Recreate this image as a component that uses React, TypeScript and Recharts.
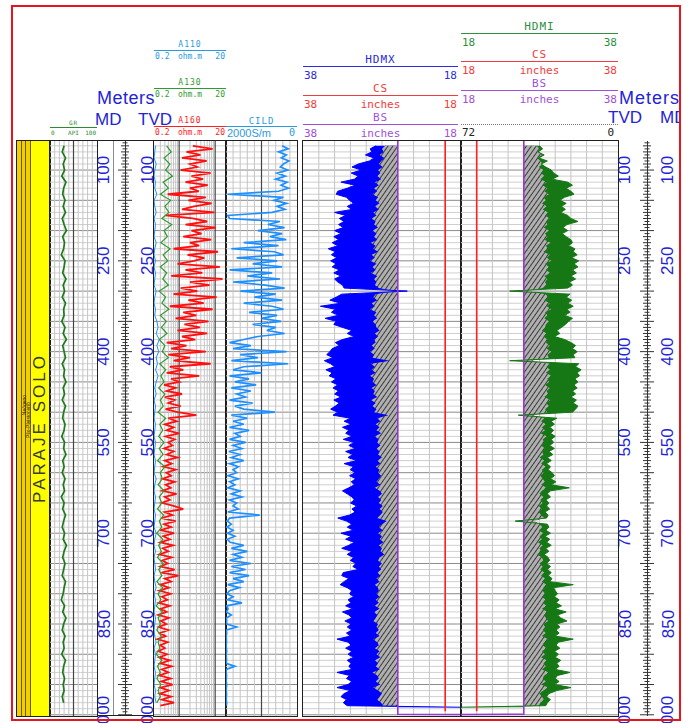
import { ComposedChart, Line, Area, XAxis, YAxis, ReferenceLine } from 'recharts'

// depth frame, metres
const TOP_DEPTH = 52
const BOTTOM_DEPTH = 1002
const FIRST_SAMPLE = 60
const STEP = 5 // hdmx, hdmi, hatch, a160, cild every 5 m; gr, a110, a130 every 10 m
const DEPTH_LABELS = [100, 250, 400, 550, 700, 850, 1000]

const BS_IN = 26
const CS_IN = 20
const AUX_72 = 25.7
const LOG_END = 987.5
const CS_END = 994
const TD = 999

// HDMX, inches (5 m)
const hdmx = [
  28.8, 29.5, 29.3, 30.1, 29.0, 29.6, 31.0, 31.8, 30.6, 31.9,
  31.0, 31.5, 33.2, 31.4, 32.4, 33.6, 33.8, 32.5, 32.1, 31.6,
  32.4, 31.8, 34.0, 32.6, 33.4, 32.8, 33.5, 32.9, 34.0, 33.2,
  34.1, 33.5, 34.3, 33.6, 34.8, 33.9, 34.4, 33.7, 34.5, 33.8,
  34.3, 33.4, 34.1, 33.2, 34.0, 33.6, 33.0, 32.8, 24.8, 33.1,
  33.8, 34.6, 33.2, 35.8, 33.9, 34.4, 33.5, 35.2, 33.8, 34.1,
  33.0, 31.8, 32.4, 31.5, 33.0, 33.9, 33.4, 34.3, 34.6, 35.0,
  34.2, 35.3, 34.5, 34.0, 35.1, 34.3, 34.7, 33.8, 34.4, 33.6,
  34.2, 33.5, 34.0, 33.2, 34.1, 33.4, 33.9, 34.5, 33.6, 34.2,
  32.0, 32.8, 31.9, 33.0, 32.2, 32.6, 31.8, 32.9, 31.5, 32.2,
  31.4, 32.6, 31.7, 32.3, 31.2, 32.8, 31.6, 32.0, 31.4, 32.1,
  31.3, 31.9, 31.5, 32.2, 33.0, 32.4, 31.8, 31.5, 32.0, 31.2,
  31.8, 31.4, 32.1, 33.6, 32.5, 31.8, 32.4, 31.6, 33.2, 31.9,
  32.6, 31.5, 32.2, 33.1, 31.8, 32.4, 31.6, 32.0, 31.3, 31.7,
  31.0, 32.9, 33.1, 32.2, 32.8, 33.3, 32.4, 31.8, 32.1, 31.6,
  32.3, 31.9, 32.6, 31.7, 33.0, 32.2, 31.8, 32.7, 31.9, 32.4,
  31.8, 32.5, 32.0, 33.7, 32.3, 31.9, 32.6, 31.8, 32.3, 31.6,
  32.4, 31.9, 32.2, 31.8, 33.7, 32.1, 32.5, 31.8, 32.3, 33.7,
  32.0, 32.8, 33.2, 32.5, 32.9, 32.4,
]

// HDMI, inches (5 m)
const hdmi = [
  28.0, 28.4, 27.8, 28.6, 27.9, 29.0, 28.2, 28.8, 29.5, 29.8,
  30.4, 29.6, 31.6, 32.2, 31.4, 32.0, 32.4, 31.2, 30.6, 31.4,
  30.8, 31.3, 30.7, 31.6, 32.0, 32.9, 31.5, 31.0, 31.6, 30.9,
  31.4, 32.0, 32.2, 31.7, 32.5, 32.3, 32.8, 32.1, 33.0, 32.4,
  32.9, 32.2, 32.7, 32.0, 32.6, 31.8, 32.2, 31.6, 24.2, 31.9,
  31.4, 32.1, 31.6, 32.3, 31.5, 31.9, 31.2, 32.2, 31.7, 31.3,
  30.8, 30.2, 30.6, 29.9, 31.2, 32.0, 32.6, 32.2, 32.8, 32.3,
  32.5, 24.2, 33.0, 32.6, 33.3, 32.8, 33.1, 32.5, 32.9, 32.4,
  32.8, 32.2, 32.6, 32.0, 32.7, 32.3, 32.9, 32.6, 32.2, 25.3,
  30.2, 29.5, 29.9, 29.3, 29.8, 29.4, 30.0, 29.5, 29.8, 29.3,
  29.9, 29.2, 29.7, 29.0, 29.5, 28.9, 29.4, 29.1, 29.6, 29.9,
  29.4, 30.1, 29.5, 31.8, 29.4, 29.0, 29.4, 28.8, 29.2, 28.9,
  29.3, 28.7, 29.1, 28.9, 24.9, 29.0, 29.2, 28.8, 29.4, 28.7,
  29.3, 28.9, 29.5, 28.8, 29.2, 28.6, 29.1, 29.3, 28.9, 29.4,
  29.0, 29.5, 29.1, 29.6, 29.3, 32.3, 29.8, 30.0, 30.3, 29.9,
  30.5, 30.1, 30.8, 30.0, 31.4, 30.3, 30.7, 31.5, 30.2, 30.6,
  30.1, 30.5, 30.0, 32.3, 30.4, 30.1, 30.6, 29.9, 30.4, 30.0,
  30.7, 30.2, 30.5, 30.0, 31.9, 30.3, 30.0, 30.5, 29.9, 32.0,
  30.2, 29.2, 28.9, 29.4, 29.0, 28.8,
]

// edge of the hatched fill next to BS, inches (5 m)
const hatch = [
  27.6, 28.0, 27.8, 28.3, 27.7, 28.1, 28.4, 27.9, 28.5, 28.2,
  28.6, 28.1, 28.9, 28.4, 29.0, 28.6, 29.2, 28.5, 28.8, 28.3,
  28.9, 28.4, 29.1, 28.7, 29.3, 28.8, 29.0, 28.5, 29.2, 28.7,
  29.0, 28.6, 29.4, 28.8, 29.1, 28.5, 29.3, 28.9, 29.5, 28.7,
  29.2, 28.8, 29.4, 28.6, 29.0, 28.7, 28.9, 28.4, 26.5, 28.8,
  29.1, 28.6, 29.3, 28.9, 29.5, 28.7, 29.0, 28.6, 29.2, 28.8,
  28.7, 28.3, 28.9, 28.5, 29.0, 28.8, 29.3, 28.9, 29.5, 29.0,
  29.2, 27.0, 29.4, 28.9, 29.3, 28.8, 29.5, 29.0, 29.2, 28.7,
  29.3, 28.9, 29.1, 28.6, 29.4, 28.8, 29.2, 28.7, 29.0, 27.2,
  28.6, 28.2, 28.8, 28.3, 28.7, 28.1, 28.9, 28.4, 28.6, 28.2,
  28.7, 28.3, 28.5, 28.0, 28.6, 28.2, 28.8, 28.3, 28.5, 28.1,
  28.4, 28.7, 28.2, 28.9, 28.3, 28.0, 28.5, 28.1, 28.4, 27.9,
  28.3, 27.9, 28.2, 28.6, 27.4, 28.0, 28.4, 27.9, 28.5, 28.0,
  28.3, 27.8, 28.4, 28.0, 28.2, 27.7, 28.3, 28.5, 28.0, 28.4,
  28.1, 28.6, 28.2, 28.7, 28.3, 28.9, 28.5, 28.4, 28.7, 28.3,
  28.8, 28.4, 28.9, 28.3, 29.0, 28.6, 28.8, 29.1, 28.5, 28.7,
  28.4, 28.8, 28.3, 29.1, 28.6, 28.4, 28.9, 28.3, 28.7, 28.2,
  28.9, 28.5, 28.8, 28.3, 29.2, 28.6, 28.4, 28.8, 28.2, 29.1,
  28.5, 28.0, 28.3, 28.6, 28.1, 27.9,
]

// A160, ohm.m (5 m)
const a160 = [
  2.4, 8.5, 1.6, 3.9, 1.2, 5.8, 2.0, 3.2, 1.1, 7.5,
  2.2, 4.6, 1.5, 6.2, 2.0, 3.5, 0.48, 5.5, 1.8, 8.0,
  2.6, 1.2, 9.5, 0.42, 2.4, 6.0, 1.5, 10.5, 2.2, 4.2,
  1.3, 7.8, 2.0, 3.6, 0.7, 12.0, 1.7, 5.0, 2.6, 0.9,
  13.5, 1.5, 4.4, 0.6, 16.0, 2.0, 7.0, 1.1, 3.2, 0.7,
  11.0, 1.8, 4.8, 0.55, 8.5, 1.3, 3.0, 0.8, 6.5, 1.4,
  3.8, 0.9, 6.0, 1.2, 2.8, 0.45, 1.6, 0.6, 5.5, 0.5,
  2.0, 0.7, 7.5, 0.55, 1.3, 0.45, 3.6, 0.6, 1.0, 0.38,
  0.8, 0.45, 1.2, 0.4, 0.75, 0.5, 1.1, 0.42, 0.9, 3.0,
  0.5, 0.85, 0.4, 0.7, 0.45, 1.0, 0.42, 0.75, 0.5, 0.65,
  0.38, 0.7, 0.45, 0.9, 0.4, 0.62, 0.36, 0.8, 0.44, 0.6,
  0.35, 0.75, 0.42, 0.58, 0.34, 0.85, 0.4, 0.55, 0.33, 0.7,
  1.3, 0.4, 0.65, 0.32, 0.8, 0.38, 0.6, 0.3, 0.72, 0.36,
  0.55, 0.3, 0.68, 0.35, 0.5, 0.28, 0.62, 0.34, 0.48, 0.3,
  0.75, 0.32, 0.95, 0.4, 0.6, 0.3, 0.52, 0.28, 0.58, 0.33,
  0.47, 0.27, 0.55, 0.3, 0.45, 0.26, 0.52, 0.31, 0.44, 0.27,
  0.5, 0.29, 0.42, 0.25, 0.48, 0.3, 0.4, 0.26, 0.46, 0.28,
  0.55, 0.3, 0.62, 0.33, 0.5, 0.28, 0.58, 0.32, 0.66, 0.3,
  0.52, 0.29, 0.6, 0.33, 0.72, 0.3,
]

// CILD, mS/m (5 m)
const cild = [
  420, 250, 520, 300, 440, 230, 380, 470, 260, 560,
  330, 600, 280, 450, 240, 520, 1960, 380, 650, 290,
  560, 340, 700, 1950, 1900, 480, 820, 350, 1100, 420,
  760, 300, 1500, 520, 1850, 640, 380, 1700, 560, 1250,
  420, 1900, 700, 1400, 480, 1800, 900, 350, 1600, 600,
  1200, 420, 1500, 700, 380, 1350, 560, 1000, 450, 1250,
  600, 850, 350, 1100, 1500, 1900, 1300, 1800, 300, 1600,
  1100, 1850, 250, 1500, 1800, 1000, 1900, 1350, 1750, 1150,
  1850, 1300, 1700, 1450, 1900, 1250, 1750, 1500, 620, 1850,
  1400, 1800, 1500, 1900, 1350, 1750, 1600, 1900, 1450, 1800,
  1550, 1920, 1600, 1850, 1500, 1900, 1650, 1800, 1700, 1950,
  1650, 1900, 1750, 1950, 1600, 1850, 1550, 1900, 1700, 1800,
  1650, 1950, 1050, 1900, 1960, 1850, 1970, 1800, 1950, 1750,
  1960, 1880, 1500, 1850, 1400, 1800, 1550, 1900, 1300, 1850,
  1450, 1900, 1350, 1800, 1500, 1950, 1620, 1900, 1970, 1800,
  1960, 1550, 1980, 1940, 1990, 1850, 1990, 1980, 1990, 1700,
  1990, 1980, 1995, 1990, 1985, 1995, 1990, 1980, 1995, 1990,
  1985, 1995, 1750, 1990, 1995, 1985, 1990, 1995, 1980, 1990,
  1995, 1985, 1990, 1995, 1980, 1990,
]

// GR, API (10 m)
const gr = [
  30, 26, 33, 28, 31, 25, 34, 29, 27, 32,
  28, 33, 26, 30, 35, 27, 31, 29, 24, 32,
  30, 27, 34, 28, 31, 26, 33, 29, 30, 25,
  32, 28, 35, 27, 30, 33, 26, 31, 29, 34,
  28, 31, 26, 33, 29, 27, 32, 30, 25, 31,
  29, 34, 27, 30, 26, 32, 28, 31, 24, 30,
  27, 33, 29, 26, 31, 28, 35, 30, 27, 32,
  29, 26, 33, 30, 28, 24, 31, 27, 34, 29,
  26, 32, 28, 30, 25, 33, 29, 27, 31, 28,
  30, 26, 29,
]

// A130, ohm.m (10 m)
const a130 = [
  0.45, 0.6, 0.38, 0.55, 0.42, 0.65, 0.36, 0.5, 0.3, 0.58,
  0.4, 0.52, 0.33, 0.62, 0.38, 0.47, 0.31, 0.56, 0.36, 0.48,
  0.3, 0.45, 0.35, 0.5, 0.28, 0.42, 0.33, 0.52, 0.3, 0.44,
  0.32, 0.46, 0.28, 0.4, 0.34, 0.5, 0.29, 0.42, 0.31, 0.38,
  0.27, 0.4, 0.3, 0.36, 0.26, 0.42, 0.29, 0.35, 0.27, 0.38,
  0.28, 0.36, 0.25, 0.4, 0.3, 0.34, 0.26, 0.38, 0.28, 0.33,
  0.25, 0.37, 0.28, 0.33, 0.24, 0.35, 0.27, 0.32, 0.25, 0.36,
  0.27, 0.33, 0.24, 0.35, 0.26, 0.31, 0.23, 0.34, 0.26, 0.3,
  0.24, 0.32, 0.26, 0.29, 0.23, 0.33, 0.25, 0.3, 0.24, 0.31,
  0.26, 0.3, 0.24,
]

// A110, ohm.m (10 m)
const a110 = [
  0.22, 0.21, 0.2, 0.23, 0.21, 0.2, 0.22, 0.21, 0.24, 0.2,
  0.21, 0.23, 0.2, 0.22, 0.21, 0.2, 0.23, 0.21, 0.2, 0.22,
  0.2, 0.22, 0.21, 0.2, 0.23, 0.21, 0.2, 0.22, 0.21, 0.24,
  0.26, 0.23, 0.28, 0.24, 0.27, 0.23, 0.25, 0.22, 0.26, 0.23,
  0.21, 0.23, 0.2, 0.22, 0.21, 0.2, 0.22, 0.21, 0.2, 0.22,
  0.21, 0.2, 0.22, 0.21, 0.2, 0.23, 0.21, 0.2, 0.22, 0.21,
  0.2, 0.22, 0.21, 0.2, 0.23, 0.21, 0.2, 0.22, 0.2, 0.21,
  0.22, 0.2, 0.21, 0.23, 0.2, 0.22, 0.21, 0.2, 0.22, 0.21,
  0.2, 0.21, 0.23, 0.2, 0.22, 0.21, 0.2, 0.22, 0.21, 0.2,
  0.22, 0.21, 0.23,
]

type Row = { depth: number; [k: string]: number | number[] | null | undefined }

const rows: Row[] = [{ depth: TOP_DEPTH, bs: BS_IN, cs: CS_IN }]
hdmx.forEach((v, i) => {
  const even = i % 2 === 0
  const k = i / 2
  rows.push({
    depth: FIRST_SAMPLE + i * STEP,
    gr: even ? gr[k] : null,
    a110: even ? a110[k] : null,
    a130: even ? a130[k] : null,
    a160: a160[i],
    cild: cild[i],
    hdmx: v,
    hdmi: hdmi[i],
    blue: [BS_IN, v],
    green: [BS_IN, hdmi[i]],
    hatchFill: [BS_IN, hatch[i]],
    bs: BS_IN,
    cs: CS_IN,
  })
})
rows.push({ depth: LOG_END, hdmx: 18, hdmi: 18, blue: [BS_IN, 18], green: [BS_IN, 18], bs: BS_IN, cs: CS_IN })
rows.push({ depth: CS_END, bs: BS_IN, cs: CS_IN })
rows.push({ depth: TD, bs: BS_IN })
rows.push({ depth: TD + 0.5, bs: 18 })

const GRID_DEPTHS: number[] = []
for (let d = 60; d <= 1000; d += 10) GRID_DEPTHS.push(d)
const RULER_DEPTHS: number[] = []
for (let d = 55; d <= 1000; d += 5) RULER_DEPTHS.push(d)

const RES_MINOR = [0.3, 0.4, 0.5, 0.6, 0.7, 0.8, 0.9, 2, 3, 4, 5, 6, 7, 8, 9]
const RES_MAJOR = [1, 10]
const GR_LINES = [10, 20, 30, 40, 60, 70, 80, 90]
const CILD_LINES = [200, 400, 600, 800, 1200, 1400, 1600, 1800]
const CAL_LINES = [20, 22, 24, 28, 30, 32, 34, 36]

const TRACK_TOP = 141
const TRACK_H = 575
const PAD_B = 24
const LABEL_BLUE = '#2424d6'

type XCfg = { domain: [number, number]; reversed?: boolean; log?: boolean }

const depthAxis = () => (
  <YAxis type="number" dataKey="depth" domain={[TOP_DEPTH, BOTTOM_DEPTH]} hide allowDataOverflow />
)

const depthTick = (labelOffsets: number[], rulerOffset: number) => (props: any) => {
  const { x, y, payload } = props
  const d = payload.value as number
  const half = d % 50 === 0 ? 7 : d % 10 === 0 ? 4 : 2.5
  const rx = x + rulerOffset
  return (
    <g>
      <line x1={rx - half} x2={rx + half} y1={y} y2={y} stroke="#333" strokeWidth={1} />
      {DEPTH_LABELS.includes(d) &&
        labelOffsets.map((o) => (
          <text
            key={o}
            x={x + o}
            y={y}
            transform={`rotate(-90 ${x + o} ${y})`}
            textAnchor="middle"
            dominantBaseline="central"
            fill={LABEL_BLUE}
            fontSize={17}
            fontFamily="'Liberation Sans', Arial, sans-serif"
          >
            {d}
          </text>
        ))}
    </g>
  )
}

function GridLayer({ left, width, x, vMinor, vMajor = [], extra }: {
  left: number; width: number; x: XCfg; vMinor: number[]; vMajor?: number[]; extra?: React.ReactNode
}) {
  return (
    <div style={{ position: 'absolute', left, top: TRACK_TOP }}>
      <ComposedChart layout="vertical" width={width} height={TRACK_H + PAD_B} data={rows}
        margin={{ top: 0, right: 0, bottom: PAD_B, left: 0 }}>
        <XAxis type="number" hide domain={x.domain} reversed={x.reversed} scale={x.log ? 'log' : 'auto'} allowDataOverflow />
        {depthAxis()}
        {GRID_DEPTHS.map((d) => (
          <ReferenceLine key={'h' + d} y={d} stroke={d % 50 === 0 ? '#8a8a8a' : '#cfcfcf'} strokeWidth={1} />
        ))}
        {vMinor.map((v) => (
          <ReferenceLine key={'v' + v} x={v} stroke="#c4c4c4" strokeWidth={1} />
        ))}
        {vMajor.map((v) => (
          <ReferenceLine key={'m' + v} x={v} stroke="#444" strokeWidth={1.2} />
        ))}
        {extra}
      </ComposedChart>
    </div>
  )
}

function DataLayer({ left, width, x, children, axisWidth = 0, tick, padR = 0 }: {
  left: number; width: number; x: XCfg; children: React.ReactNode; axisWidth?: number; tick?: any; padR?: number
}) {
  return (
    <div style={{ position: 'absolute', left, top: TRACK_TOP }}>
      <ComposedChart layout="vertical" width={width + axisWidth + padR} height={TRACK_H + PAD_B} data={rows}
        margin={{ top: 0, right: padR, bottom: PAD_B, left: 0 }}>
        <XAxis type="number" hide domain={x.domain} reversed={x.reversed} scale={x.log ? 'log' : 'auto'} allowDataOverflow />
        {axisWidth > 0 ? (
          <YAxis type="number" dataKey="depth" domain={[TOP_DEPTH, BOTTOM_DEPTH]} allowDataOverflow
            orientation="right" width={axisWidth} ticks={RULER_DEPTHS} interval={0} axisLine={false}
            tickLine={false} tickSize={0} tickMargin={0} tick={tick} />
        ) : (
          depthAxis()
        )}
        {children}
      </ComposedChart>
    </div>
  )
}

const hatchDefs = (id: string) => (
  <defs>
    <pattern id={id} width={4} height={4} patternUnits="userSpaceOnUse" patternTransform="rotate(35)">
      <rect width={4} height={4} fill="#b0b0b0" />
      <line x1={0} y1={0} x2={0} y2={4} stroke="#262626" strokeWidth={1.7} />
    </pattern>
  </defs>
)

const MONO = "'DejaVu Sans Mono', monospace"
const SANS = "'Liberation Sans', Arial, sans-serif"

function Txt({ x, y, children, color, size, anchor = 'middle', font = MONO, spacing = 0, bold = false }: any) {
  const tx = anchor === 'middle' ? '-50%' : anchor === 'end' ? '-100%' : '0'
  return (
    <div style={{
      position: 'absolute', left: x, top: y, transform: `translate(${tx}, -50%)`, color, fontSize: size,
      fontFamily: font, whiteSpace: 'nowrap', lineHeight: 1, letterSpacing: spacing, fontWeight: bold ? 700 : 400,
    }}>
      {children}
    </div>
  )
}

function HLine({ x1, x2, y, color, w = 1.5, dashed = false }: any) {
  return (
    <div style={{
      position: 'absolute', left: x1, top: y - w / 2, width: x2 - x1, height: 0,
      borderTop: `${w}px ${dashed ? 'dotted' : 'solid'} ${color}`,
    }} />
  )
}

function ScaleHead({ x1, x2, lineY, color, title, lo, mid, hi, size = 11, gap = 8 }: any) {
  const cx = (x1 + x2) / 2
  return (
    <>
      {title && <Txt x={cx} y={lineY - gap} color={color} size={size} spacing={1}>{title}</Txt>}
      <HLine x1={x1} x2={x2} y={lineY} color={color} />
      {lo && <Txt x={x1 + 1} y={lineY + gap} color={color} size={size} anchor="start">{lo}</Txt>}
      {mid && <Txt x={cx} y={lineY + gap} color={color} size={size}>{mid}</Txt>}
      {hi && <Txt x={x2 - 1} y={lineY + gap} color={color} size={size} anchor="end">{hi}</Txt>}
    </>
  )
}

function Box({ x1, x2, color = '#1f1f1f', w = 1.5 }: any) {
  return (
    <div style={{
      position: 'absolute', left: x1 - w / 2, top: TRACK_TOP - w / 2, width: x2 - x1 + w, height: TRACK_H + w,
      border: `${w}px solid ${color}`, boxSizing: 'border-box',
    }} />
  )
}

function VRule({ x, color = '#333', w = 1 }: any) {
  return <div style={{ position: 'absolute', left: x - w / 2, top: TRACK_TOP, width: w, height: TRACK_H, background: color }} />
}

const GR_X: XCfg = { domain: [0, 100] }
const RES_X: XCfg = { domain: [0.2, 20], log: true }
const CILD_X: XCfg = { domain: [0, 2000], reversed: true }
const HDMX_X: XCfg = { domain: [18, 38], reversed: true }
const HDMI_X: XCfg = { domain: [18, 38] }

const C = {
  gr: '#1d7a1d',
  a130: '#2f9a2f',
  a160: '#ff1010',
  a110: '#1e90ff',
  cild: '#1e8fff',
  hdmx: '#0000ff',
  hdmi: '#157815',
  bs: '#9a35d6',
  cs: '#ff2020',
}

export default function App() {
  return (
    <div style={{ position: 'absolute', left: 0, top: 0, width: 681, height: 723, overflow: 'hidden', background: '#fff' }}>
      {/* lithology column */}
      <div style={{ position: 'absolute', left: 17, top: TRACK_TOP, width: 13, height: TRACK_H, background: '#f1cf00' }} />
      <div style={{ position: 'absolute', left: 30, top: TRACK_TOP, width: 20, height: TRACK_H, background: '#ffff00' }} />
      <VRule x={21.5} color="#6b5a00" />
      <VRule x={25.5} color="#6b5a00" />
      <VRule x={30} color="#6b5a00" />
      <div style={{
        position: 'absolute', left: 40, top: 428, transform: 'translate(-50%, -50%) rotate(-90deg)', whiteSpace: 'nowrap',
        fontFamily: SANS, fontSize: 17, letterSpacing: 3, color: '#3a3a3a',
      }}>PARAJE SOLO</div>
      <div style={{
        position: 'absolute', left: 23.5, top: 405, transform: 'translate(-50%, -50%) rotate(-90deg)', whiteSpace: 'nowrap',
        fontFamily: SANS, fontSize: 5, color: '#222',
      }}>Neógeno</div>
      <div style={{
        position: 'absolute', left: 27.8, top: 420, transform: 'translate(-50%, -50%) rotate(-90deg)', whiteSpace: 'nowrap',
        fontFamily: SANS, fontSize: 5, color: '#222',
      }}>Plio-Pleistoceno</div>
      <Box x1={17} x2={50} />

      {/* GR + left depth column */}
      <GridLayer left={50} width={47} x={GR_X} vMinor={GR_LINES} vMajor={[50]} />
      <VRule x={113} color="#8a8a8a" />
      <VRule x={125} color="#333" />
      <DataLayer left={50} width={47} x={GR_X} axisWidth={57} padR={8} tick={depthTick([7, 50.5], 28)}>
        <Line dataKey="gr" stroke={C.gr} strokeWidth={1.7} dot={false} connectNulls isAnimationActive={false} />
      </DataLayer>
      <Box x1={50} x2={97} />
      <HLine x1={97} x2={154} y={TRACK_TOP} color="#1f1f1f" />
      <HLine x1={97} x2={154} y={TRACK_TOP + TRACK_H} color="#1f1f1f" />

      {/* resistivity */}
      <GridLayer left={154} width={72} x={RES_X} vMinor={RES_MINOR} vMajor={RES_MAJOR} />
      <DataLayer left={154} width={72} x={RES_X}>
        <Line dataKey="a110" stroke={C.a110} strokeWidth={1} dot={false} connectNulls isAnimationActive={false} />
        <Line dataKey="a160" stroke={C.a160} strokeWidth={1.8} dot={false} isAnimationActive={false} />
        <Line dataKey="a130" stroke={C.a130} strokeWidth={1.2} dot={false} connectNulls isAnimationActive={false} />
      </DataLayer>
      <Box x1={154} x2={226} />

      {/* conductivity */}
      <GridLayer left={226} width={71} x={CILD_X} vMinor={CILD_LINES} vMajor={[1000]} />
      <DataLayer left={226} width={71} x={CILD_X}>
        <Line dataKey="cild" stroke={C.cild} strokeWidth={1.7} dot={false} isAnimationActive={false} />
      </DataLayer>
      <Box x1={226} x2={297} />

      {/* HDMX */}
      <GridLayer left={303} width={158} x={HDMX_X} vMinor={CAL_LINES} />
      <DataLayer left={303} width={158} x={HDMX_X}>
        {hatchDefs('hatchL')}
        <Area dataKey="blue" type="linear" fill={C.hdmx} fillOpacity={1} stroke="none" isAnimationActive={false} />
        <Area dataKey="hatchFill" type="linear" fill="url(#hatchL)" fillOpacity={1} stroke="none" isAnimationActive={false} />
        <Line dataKey="hdmx" stroke={C.hdmx} strokeWidth={1} dot={false} isAnimationActive={false} />
        <Line dataKey="cs" stroke={C.cs} strokeWidth={1.6} dot={false} connectNulls isAnimationActive={false} />
        <Line dataKey="bs" stroke={C.bs} strokeWidth={1.6} dot={false} connectNulls isAnimationActive={false} />
      </DataLayer>
      <Box x1={303} x2={461} />

      {/* HDMI + right depth column */}
      <GridLayer left={461} width={157} x={HDMI_X} vMinor={CAL_LINES}
        extra={[
          <XAxis key="ax" xAxisId="aux" type="number" hide domain={[0, 72]} reversed />,
          <ReferenceLine key="rl" xAxisId="aux" x={AUX_72} stroke="#333" strokeDasharray="2 2" strokeWidth={1} />,
        ]} />
      <VRule x={647} color="#333" />
      <DataLayer left={461} width={157} x={HDMI_X} axisWidth={62} tick={depthTick([7, 50], 29)}>
        {hatchDefs('hatchR')}
        <Area dataKey="green" type="linear" fill={C.hdmi} fillOpacity={1} stroke="none" isAnimationActive={false} />
        <Area dataKey="hatchFill" type="linear" fill="url(#hatchR)" fillOpacity={1} stroke="none" isAnimationActive={false} />
        <Line dataKey="hdmi" stroke={C.hdmi} strokeWidth={1} dot={false} isAnimationActive={false} />
        <Line dataKey="cs" stroke={C.cs} strokeWidth={1.6} dot={false} connectNulls isAnimationActive={false} />
        <Line dataKey="bs" stroke={C.bs} strokeWidth={1.6} dot={false} connectNulls isAnimationActive={false} />
      </DataLayer>
      <Box x1={461} x2={618} />

      {/* headers, left */}
      <ScaleHead x1={154} x2={226} lineY={51} color="#2a9ae0" title="A110" lo="0.2" mid="ohm.m" hi="20" size={8} gap={6} />
      <ScaleHead x1={154} x2={226} lineY={89} color="#2f9a2f" title="A130" lo="0.2" mid="ohm.m" hi="20" size={8} gap={6} />
      <ScaleHead x1={154} x2={226} lineY={127} color="#ff2020" title="A160" lo="0.2" mid="ohm.m" hi="20" size={8} gap={6} />
      <ScaleHead x1={226} x2={297} lineY={127} color="#2a9ae0" title="CILD" size={9} gap={6} />
      <Txt x={227} y={133} color="#2a9ae0" size={11} anchor="start" font={SANS}>2000S/m</Txt>
      <Txt x={295} y={133} color="#2a9ae0" size={10} anchor="end">0</Txt>
      <ScaleHead x1={50} x2={97} lineY={128} color="#2f8a2f" title="GR" lo="0" mid="API" hi="100" size={6} gap={5} />
      <Txt x={97} y={98} color={LABEL_BLUE} size={18} anchor="start" font={SANS} spacing={0.5}>Meters</Txt>
      <Txt x={95} y={119} color={LABEL_BLUE} size={17} anchor="start" font={SANS}>MD</Txt>
      <Txt x={138} y={119} color={LABEL_BLUE} size={17} anchor="start" font={SANS}>TVD</Txt>

      {/* headers, right */}
      <ScaleHead x1={303} x2={458} lineY={67} color="#2b2be0" title="HDMX" lo="38" hi="18" />
      <ScaleHead x1={303} x2={458} lineY={96} color="#f03c3c" title="CS" lo="38" mid="inches" hi="18" />
      <ScaleHead x1={303} x2={458} lineY={125} color="#a050d8" title="BS" lo="38" mid="inches" hi="18" />
      <ScaleHead x1={461} x2={618} lineY={34} color="#2f8f3f" title="HDMI" lo="18" hi="38" />
      <ScaleHead x1={461} x2={618} lineY={62} color="#f03c3c" title="CS" lo="18" mid="inches" hi="38" />
      <ScaleHead x1={461} x2={618} lineY={91} color="#a050d8" title="BS" lo="18" mid="inches" hi="38" />
      <HLine x1={461} x2={618} y={124} color="#777" w={1} dashed />
      <Txt x={462} y={132} color="#222" size={11} anchor="start">72</Txt>
      <Txt x={614} y={132} color="#222" size={11} anchor="end">0</Txt>
      <Txt x={619} y={98} color={LABEL_BLUE} size={18} anchor="start" font={SANS} spacing={1}>Meters</Txt>
      <Txt x={608} y={117} color={LABEL_BLUE} size={17} anchor="start" font={SANS}>TVD</Txt>
      <Txt x={660} y={117} color={LABEL_BLUE} size={17} anchor="start" font={SANS}>MD</Txt>

      {/* outer frame */}
      <div style={{
        position: 'absolute', left: 11, top: 5, width: 670, height: 716, border: '2px solid #e8141c',
        boxSizing: 'border-box', pointerEvents: 'none',
      }} />
    </div>
  )
}
